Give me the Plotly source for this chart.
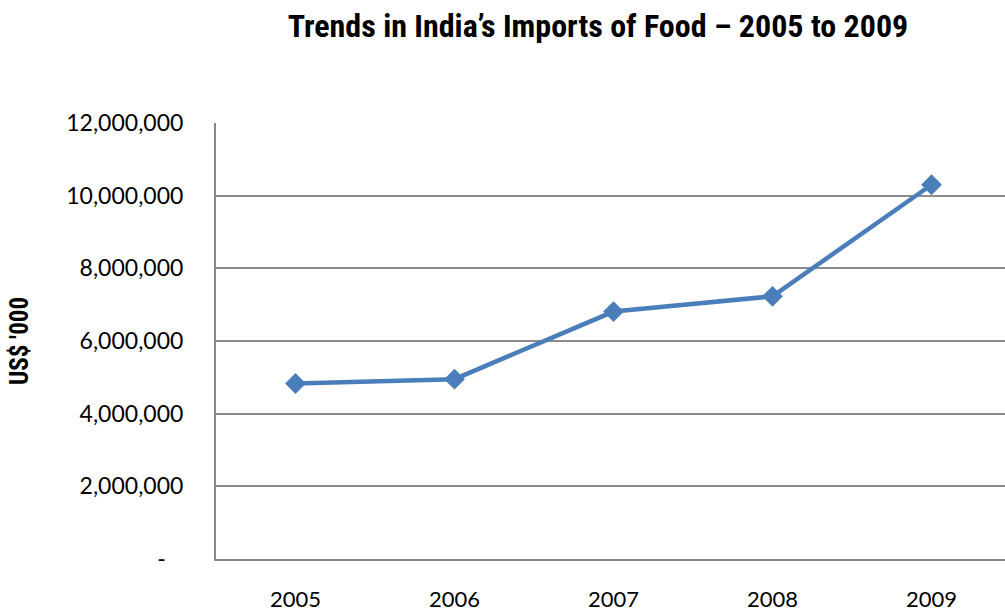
import plotly.graph_objects as go

years = ["2005", "2006", "2007", "2008", "2009"]
imports = [4830000, 4950000, 6810000, 7230000, 10300000]
y_ticks = [0, 2000000, 4000000, 6000000, 8000000, 10000000, 12000000]
y_ticktext = ["-\u00a0\u00a0\u00a0", "2,000,000", "4,000,000", "6,000,000", "8,000,000", "10,000,000", "12,000,000"]

fig = go.Figure()
fig.add_trace(go.Scatter(
    x=[0, 1, 2, 3, 4], y=imports, mode="lines+markers",
    line=dict(color="#4a7ebb", width=4.5),
    marker=dict(symbol="diamond", size=16, color="#4a7ebb"),
    showlegend=False,
))

fig.update_layout(
    width=1005, height=616,
    margin=dict(l=216, r=0, t=123, b=57),
    paper_bgcolor="white", plot_bgcolor="white",
    title=dict(text="<b>Trends in India’s Imports of Food – 2005 to 2009</b>",
               font=dict(family="Roboto Condensed, Roboto, sans-serif", size=32, color="black"),
               x=0.595, xanchor="center", y=0.958, yanchor="middle"),
    font=dict(family="Lato, Open Sans, sans-serif", color="black"),
)
fig.update_xaxes(
    tickmode="array", tickvals=[0, 1, 2, 3, 4], ticktext=years,
    range=[-0.5, 4.462], showgrid=False, zeroline=False,
    showline=True, linecolor="#888888", linewidth=2,
    ticks="", tickfont=dict(size=22), ticklabelstandoff=20, automargin=False,
)
fig.update_yaxes(
    tickmode="array", tickvals=y_ticks, ticktext=y_ticktext,
    range=[0, 12000000], showgrid=True, gridcolor="#8c8c8c", gridwidth=1.5,
    zeroline=False, showline=True, linecolor="#888888", linewidth=2,
    ticks="", tickfont=dict(size=23), ticklabelstandoff=26, automargin=False,
    title=dict(text="<b>US$ '000</b>", font=dict(family="Roboto Condensed, Roboto, sans-serif", size=25), standoff=30),
)

fig.write_html("out.html")
